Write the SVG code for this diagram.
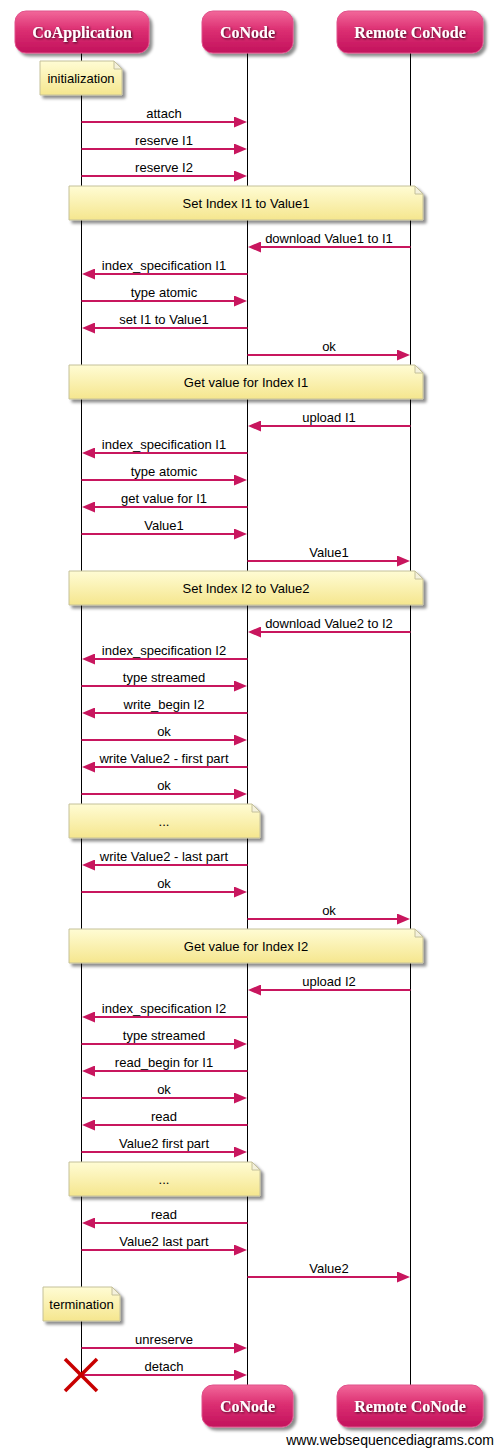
<svg xmlns="http://www.w3.org/2000/svg" width="496" height="1448" viewBox="0 0 496 1448">
  <defs>
    <linearGradient id="actorFill" x1="0" y1="0" x2="0" y2="1">
      <stop offset="0" stop-color="#f2689a"/>
      <stop offset="0.45" stop-color="#dc2f72"/>
      <stop offset="1" stop-color="#c2125c"/>
    </linearGradient>
    <linearGradient id="noteFill" x1="0" y1="0" x2="0" y2="1">
      <stop offset="0" stop-color="#fffcd4"/>
      <stop offset="1" stop-color="#f5e68e"/>
    </linearGradient>
    <filter id="shadow" x="-10%" y="-20%" width="130%" height="160%">
      <feDropShadow dx="3" dy="3" stdDeviation="1.6" flood-color="#000" flood-opacity="0.45"/>
    </filter>
    <filter id="textShadow" x="-10%" y="-30%" width="120%" height="160%">
      <feDropShadow dx="1" dy="1" stdDeviation="0.8" flood-color="#000" flood-opacity="0.7"/>
    </filter>
    <marker id="head" viewBox="0 0 13 11" refX="7" refY="5.5" markerWidth="13" markerHeight="11" markerUnits="userSpaceOnUse" orient="auto">
      <path d="M0,0 L13,5.5 L0,11 z" fill="#c8165e"/>
    </marker>
  </defs>
  <style>
    .life { stroke: #000; stroke-width: 1; fill: none; }
    .actor rect { fill: url(#actorFill); stroke: #e0508a; stroke-width: 1; filter: url(#shadow); }
    .actor text { font-family: "Liberation Serif", "Times New Roman", serif; font-weight: bold; font-size: 16px; fill: #fff; text-anchor: middle; filter: url(#textShadow); }
    .note path.body { fill: url(#noteFill); stroke: #c4c09a; stroke-width: 1; filter: url(#shadow); }
    .note path.fold { fill: #f4f1dc; stroke: #c4c09a; stroke-width: 1; }
    .note text, .msg text { font-family: "Liberation Sans", Arial, sans-serif; font-size: 13px; fill: #000; text-anchor: middle; }
    .msg line { stroke: #c8165e; stroke-width: 2; marker-end: url(#head); }
    .destroy { stroke: #c80000; stroke-width: 3.5; stroke-linecap: butt; }
    .credit { font-family: "Liberation Sans", Arial, sans-serif; font-size: 14px; fill: #000; text-anchor: end; }
  </style>

  <!-- lifelines -->
  <g id="lifelines">
    <line class="life" x1="81.5" y1="53" x2="81.5" y2="1375"/>
    <line class="life" x1="247.5" y1="53" x2="247.5" y2="1385"/>
    <line class="life" x1="410.5" y1="53" x2="410.5" y2="1385"/>
  </g>

  <!-- participants (top) -->
  <g id="actor-coapplication" class="actor">
    <rect x="15" y="11" width="134" height="42" rx="11"/>
    <text x="82" y="38">CoApplication</text>
  </g>
  <g id="actor-conode" class="actor">
    <rect x="202" y="11" width="91" height="42" rx="11"/>
    <text x="247.5" y="38">CoNode</text>
  </g>
  <g id="actor-remote" class="actor">
    <rect x="337" y="11" width="146" height="42" rx="11"/>
    <text x="410" y="38">Remote CoNode</text>
  </g>

  <!-- participants (bottom) -->
  <g id="actor-conode-bottom" class="actor">
    <rect x="202" y="1385" width="91" height="42" rx="11"/>
    <text x="247.5" y="1412">CoNode</text>
  </g>
  <g id="actor-remote-bottom" class="actor">
    <rect x="337" y="1385" width="146" height="42" rx="11"/>
    <text x="410" y="1412">Remote CoNode</text>
  </g>

  <!-- notes -->
  <g id="note-initialization" class="note">
    <path class="body" d="M40,61 H114 L122,69 V95 H40 Z"/>
    <path class="fold" d="M114,61 V69 H122 Z"/>
    <text x="81" y="83">initialization</text>
  </g>
  <g id="note-set-i1" class="note">
    <path class="body" d="M69,186 H415 L423,194 V220 H69 Z"/>
    <path class="fold" d="M415,186 V194 H423 Z"/>
    <text x="246" y="208">Set Index I1 to Value1</text>
  </g>
  <g id="note-get-i1" class="note">
    <path class="body" d="M69,365 H415 L423,373 V399 H69 Z"/>
    <path class="fold" d="M415,365 V373 H423 Z"/>
    <text x="246" y="387">Get value for Index I1</text>
  </g>
  <g id="note-set-i2" class="note">
    <path class="body" d="M69,571 H415 L423,579 V605 H69 Z"/>
    <path class="fold" d="M415,571 V579 H423 Z"/>
    <text x="246" y="593">Set Index I2 to Value2</text>
  </g>
  <g id="note-write-more" class="note">
    <path class="body" d="M69,804 H252 L260,812 V838 H69 Z"/>
    <path class="fold" d="M252,804 V812 H260 Z"/>
    <text x="164" y="826">...</text>
  </g>
  <g id="note-get-i2" class="note">
    <path class="body" d="M69,929 H415 L423,937 V963 H69 Z"/>
    <path class="fold" d="M415,929 V937 H423 Z"/>
    <text x="246" y="951">Get value for Index I2</text>
  </g>
  <g id="note-read-more" class="note">
    <path class="body" d="M69,1162 H252 L260,1170 V1196 H69 Z"/>
    <path class="fold" d="M252,1162 V1170 H260 Z"/>
    <text x="164" y="1184">...</text>
  </g>
  <g id="note-termination" class="note">
    <path class="body" d="M43,1287 H112 L120,1295 V1321 H43 Z"/>
    <path class="fold" d="M112,1287 V1295 H120 Z"/>
    <text x="81.5" y="1309">termination</text>
  </g>

  <!-- messages -->
  <g id="connectors" class="msg">
    <line x1="81.5" y1="122" x2="241" y2="122"/><text x="164" y="118">attach</text>
    <line x1="81.5" y1="149" x2="241" y2="149"/><text x="164" y="145">reserve I1</text>
    <line x1="81.5" y1="176" x2="241" y2="176"/><text x="164" y="172">reserve I2</text>

    <line x1="410.5" y1="247" x2="254" y2="247"/><text x="329" y="243">download Value1 to I1</text>
    <line x1="247.5" y1="274" x2="88" y2="274"/><text x="164" y="270">index_specification I1</text>
    <line x1="81.5" y1="301" x2="241" y2="301"/><text x="164" y="297">type atomic</text>
    <line x1="247.5" y1="328" x2="88" y2="328"/><text x="164" y="324">set I1 to Value1</text>
    <line x1="247.5" y1="355" x2="404" y2="355"/><text x="329" y="351">ok</text>

    <line x1="410.5" y1="426" x2="254" y2="426"/><text x="329" y="422">upload I1</text>
    <line x1="247.5" y1="453" x2="88" y2="453"/><text x="164" y="449">index_specification I1</text>
    <line x1="81.5" y1="480" x2="241" y2="480"/><text x="164" y="476">type atomic</text>
    <line x1="247.5" y1="507" x2="88" y2="507"/><text x="164" y="503">get value for I1</text>
    <line x1="81.5" y1="534" x2="241" y2="534"/><text x="164" y="530">Value1</text>
    <line x1="247.5" y1="561" x2="404" y2="561"/><text x="329" y="557">Value1</text>

    <line x1="410.5" y1="632" x2="254" y2="632"/><text x="329" y="628">download Value2 to I2</text>
    <line x1="247.5" y1="659" x2="88" y2="659"/><text x="164" y="655">index_specification I2</text>
    <line x1="81.5" y1="686" x2="241" y2="686"/><text x="164" y="682">type streamed</text>
    <line x1="247.5" y1="713" x2="88" y2="713"/><text x="164" y="709">write_begin I2</text>
    <line x1="81.5" y1="740" x2="241" y2="740"/><text x="164" y="736">ok</text>
    <line x1="247.5" y1="767" x2="88" y2="767"/><text x="164" y="763">write Value2 - first part</text>
    <line x1="81.5" y1="794" x2="241" y2="794"/><text x="164" y="790">ok</text>

    <line x1="247.5" y1="865" x2="88" y2="865"/><text x="164" y="861">write Value2 - last part</text>
    <line x1="81.5" y1="892" x2="241" y2="892"/><text x="164" y="888">ok</text>
    <line x1="247.5" y1="919" x2="404" y2="919"/><text x="329" y="915">ok</text>

    <line x1="410.5" y1="990" x2="254" y2="990"/><text x="329" y="986">upload I2</text>
    <line x1="247.5" y1="1017" x2="88" y2="1017"/><text x="164" y="1013">index_specification I2</text>
    <line x1="81.5" y1="1044" x2="241" y2="1044"/><text x="164" y="1040">type streamed</text>
    <line x1="247.5" y1="1071" x2="88" y2="1071"/><text x="164" y="1067">read_begin for I1</text>
    <line x1="81.5" y1="1098" x2="241" y2="1098"/><text x="164" y="1094">ok</text>
    <line x1="247.5" y1="1125" x2="88" y2="1125"/><text x="164" y="1121">read</text>
    <line x1="81.5" y1="1152" x2="241" y2="1152"/><text x="164" y="1148">Value2 first part</text>

    <line x1="247.5" y1="1223" x2="88" y2="1223"/><text x="164" y="1219">read</text>
    <line x1="81.5" y1="1250" x2="241" y2="1250"/><text x="164" y="1246">Value2 last part</text>
    <line x1="247.5" y1="1277" x2="404" y2="1277"/><text x="329" y="1273">Value2</text>

    <line x1="81.5" y1="1348" x2="241" y2="1348"/><text x="164" y="1344">unreserve</text>
    <line x1="81.5" y1="1375" x2="241" y2="1375"/><text x="164" y="1371">detach</text>
  </g>

  <!-- CoApplication is destroyed after detach -->
  <g id="destroy-coapplication">
    <line class="destroy" x1="65" y1="1359" x2="97" y2="1391"/>
    <line class="destroy" x1="97" y1="1359" x2="65" y2="1391"/>
  </g>

  <text class="credit" x="494" y="1445">www.websequencediagrams.com</text>
</svg>
